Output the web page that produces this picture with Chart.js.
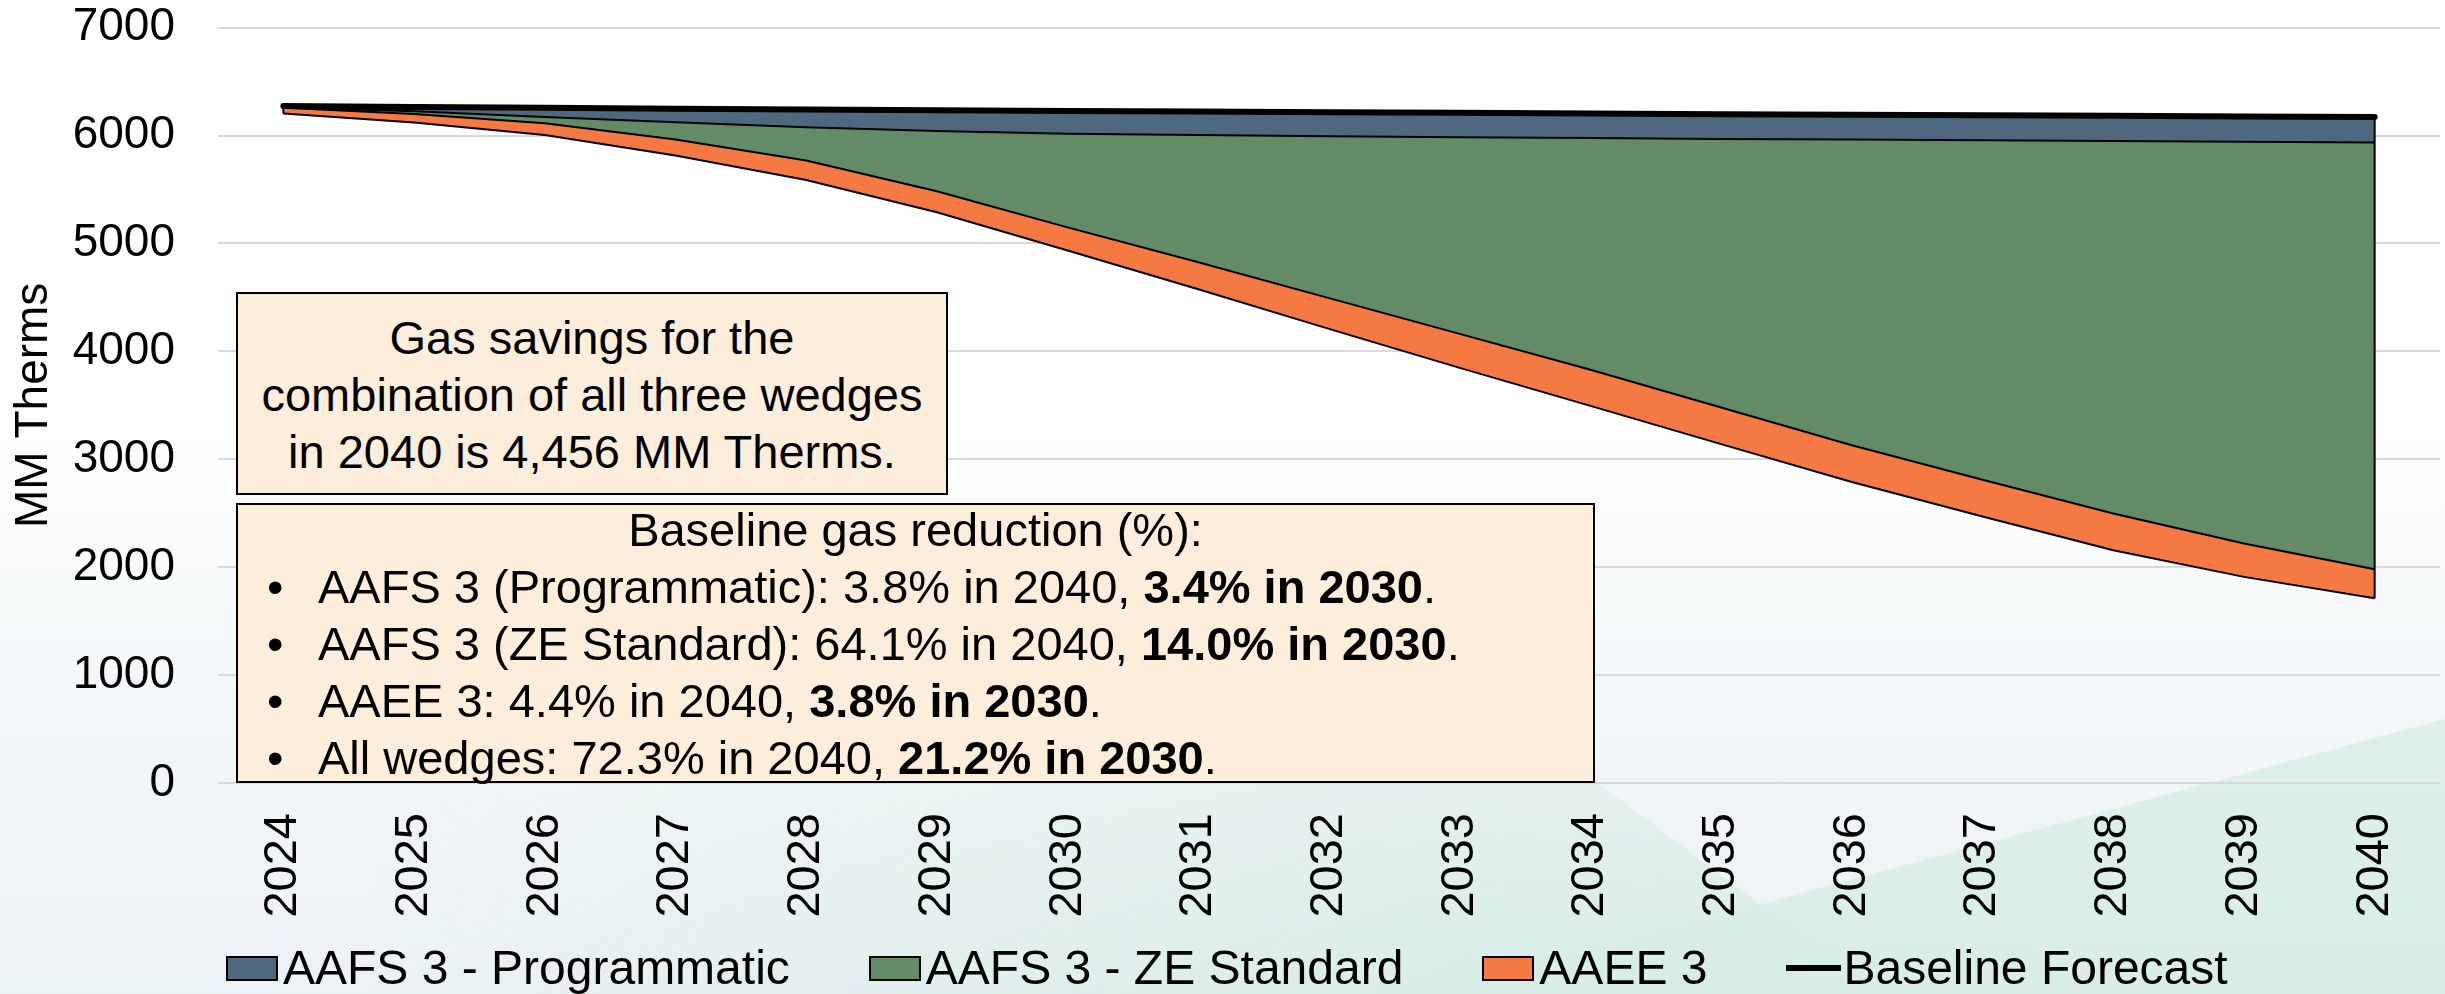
<!DOCTYPE html>
<html lang="en">
<head>
  <meta charset="UTF-8" />
  <title>Gas savings wedges</title>
  <script src="https://cdn.jsdelivr.net/npm/chart.js"></script>
  <style>
    html, body { margin: 0; padding: 0; }
    body {
      width: 2445px;
      height: 994px;
      overflow: hidden;
      position: relative;
      font-family: "Liberation Sans", Arial, sans-serif;
      color: #000;
      background: linear-gradient(180deg, #ffffff 0%, #ffffff 42%, #f3f7f9 70%, #ebf2f5 100%);
    }
    .shape { position: absolute; left: 0; top: 0; width: 2445px; height: 994px; }
    .shape1 {
      background: linear-gradient(90deg, rgba(214,236,229,0) 15%, rgba(210,235,226,0.75) 60%, rgba(210,235,226,0.8) 100%);
      clip-path: polygon(0px 994px, 0px 700px, 1340px 590px, 1880px 994px);
      -webkit-mask-image: linear-gradient(180deg, rgba(0,0,0,0) 58%, rgba(0,0,0,1) 100%);
      mask-image: linear-gradient(180deg, rgba(0,0,0,0) 58%, rgba(0,0,0,1) 100%);
    }
    .shape2 {
      background: linear-gradient(180deg, rgba(226,242,236,0.5) 0%, rgba(214,237,229,0.85) 100%);
      clip-path: polygon(1430px 994px, 2445px 719px, 2445px 994px);
    }
    #wrap { position: absolute; left: 0; top: 0; width: 2445px; height: 994px; }
    .box {
      position: absolute;
      background: #fdeedc;
      border: 2px solid #000;
      box-sizing: border-box;
      font-size: 47px;
      line-height: 57px;
    }
    .box .txt { position: absolute; left: 0; right: 0; }
    .center { text-align: center; white-space: nowrap; }
    .bullet { position: relative; padding-left: 80px; white-space: nowrap; }
    .bullet::before { content: "\2022"; position: absolute; left: 29px; }
    #legend {
      position: absolute;
      left: 226px;
      top: 944px;
      display: flex;
      align-items: center;
      gap: 79px;
      font-size: 48px;
      line-height: 48px;
      white-space: nowrap;
    }
    .item { display: flex; align-items: center; }
    .swatch { width: 52px; height: 25px; border: 2px solid #000; box-sizing: border-box; margin-right: 5px; }
    .lineKey { width: 55px; height: 6px; background: #000; margin-right: 2px; }
  </style>
</head>
<body>
  <div class="shape shape1"></div>
  <div class="shape shape2"></div>

  <div id="wrap"><canvas id="chart"></canvas></div>

  <div class="box" style="left:236px; top:292px; width:712px; height:203px;">
    <div class="txt center" style="top:15px;">
      Gas savings for the<br>combination of all three wedges<br>in 2040 is 4,456 MM Therms.
    </div>
  </div>

  <div class="box" style="left:236px; top:503px; width:1359px; height:280px;">
    <div class="txt" style="top:-4px;">
      <div class="center">Baseline gas reduction (%):</div>
      <div class="bullet">AAFS 3 (Programmatic): 3.8% in 2040, <b>3.4% in 2030</b>.</div>
      <div class="bullet">AAFS 3 (ZE Standard): 64.1% in 2040, <b>14.0% in 2030</b>.</div>
      <div class="bullet">AAEE 3: 4.4% in 2040, <b>3.8% in 2030</b>.</div>
      <div class="bullet">All wedges: 72.3% in 2040, <b>21.2% in 2030</b>.</div>
    </div>
  </div>

  <div id="legend"></div>

  <script>
    // years on the category axis
    const years = ['2024', '2025', '2026', '2027', '2028', '2029', '2030', '2031', '2032',
                   '2033', '2034', '2035', '2036', '2037', '2038', '2039', '2040'];

    // baseline gas forecast (MM Therms)
    const baseline = [6273, 6265, 6257, 6249, 6241, 6234, 6228, 6222, 6216,
                      6210, 6204, 6198, 6193, 6187, 6182, 6176, 6171];

    // savings of each wedge (MM Therms), stacked down from the baseline
    const programmatic = [10, 40, 85, 126, 165, 192, 212, 218, 222,
                          225, 228, 230, 231, 232, 233, 234, 236];
    const zeStandard = [5, 25, 58, 159, 308, 558, 867, 1179, 1501,
                        1823, 2146, 2488, 2832, 3145, 3452, 3723, 3954];
    const aaee = [55, 80, 110, 150, 180, 195, 215, 250, 285,
                  315, 335, 340, 340, 340, 340, 309, 268];

    const yMax = 7000;
    const yStep = 1000;

    // remaining gas after each wedge is taken off
    const afterProg = baseline.map((b, i) => b - programmatic[i]);
    const afterZe = afterProg.map((v, i) => v - zeStandard[i]);
    const afterAaee = afterZe.map((v, i) => v - aaee[i]);

    Chart.defaults.font.family = '"Liberation Sans", Arial, sans-serif';
    Chart.defaults.color = '#000';

    // Excel closes each area with short vertical edges at both ends
    const edges = {
      id: 'edges',
      afterDatasetsDraw(chart) {
        const { ctx, scales: { x, y } } = chart;
        ctx.save();
        ctx.strokeStyle = '#000';
        ctx.lineWidth = 2;
        [0, years.length - 1].forEach(i => {
          const px = x.getPixelForValue(i);
          ctx.beginPath();
          ctx.moveTo(px, y.getPixelForValue(baseline[i]));
          ctx.lineTo(px, y.getPixelForValue(afterAaee[i]));
          ctx.stroke();
        });
        ctx.restore();
      }
    };

    const chart = new Chart(document.getElementById('chart'), {
      type: 'line',
      data: {
        labels: years,
        datasets: [
          {
            label: 'Baseline Forecast',
            data: baseline,
            borderColor: '#000',
            backgroundColor: '#000',
            borderWidth: 6,
            borderCapStyle: 'round',
            fill: false
          },
          {
            label: 'AAFS 3 - Programmatic',
            data: afterProg,
            borderColor: '#000',
            backgroundColor: '#4e6880',
            borderWidth: 2,
            fill: '-1'
          },
          {
            label: 'AAFS 3 - ZE Standard',
            data: afterZe,
            borderColor: '#000',
            backgroundColor: '#638b66',
            borderWidth: 2,
            fill: '-1'
          },
          {
            label: 'AAEE 3',
            data: afterAaee,
            borderColor: '#000',
            backgroundColor: '#f47942',
            borderWidth: 2,
            fill: '-1'
          }
        ]
      },
      options: {
        responsive: true,
        maintainAspectRatio: false,
        animation: false,
        elements: { point: { radius: 0 }, line: { tension: 0 } },
        layout: { padding: { left: 0, right: 5, top: 0, bottom: 77 } },
        plugins: {
          legend: { display: false },
          tooltip: { enabled: false }
        },
        scales: {
          x: {
            offset: true,
            grid: { display: false, drawTicks: true, tickLength: 30, tickColor: 'rgba(0,0,0,0)' },
            border: { display: false },
            ticks: {
              autoSkip: false,
              minRotation: 90,
              maxRotation: 90,
              padding: 0,
              font: { size: 47 }
            },
            afterFit(scale) { scale.height = 134; }
          },
          y: {
            min: 0,
            max: yMax,
            grid: { color: '#d9d9d9', lineWidth: 2, drawTicks: true, tickLength: 43, tickColor: 'rgba(0,0,0,0)' },
            border: { display: false },
            ticks: {
              stepSize: yStep,
              padding: 0,
              font: { size: 46 },
              callback: value => String(value)
            },
            title: {
              display: true,
              text: 'MM Therms',
              font: { size: 46 },
              padding: { top: 7, bottom: 0 }
            },
            afterFit(scale) { scale.width = 218; }
          }
        }
      },
      plugins: [edges]
    });

    // legend built from the chart's own datasets
    const legend = document.getElementById('legend');
    [1, 2, 3, 0].forEach(idx => {
      const ds = chart.data.datasets[idx];
      const item = document.createElement('div');
      item.className = 'item';
      const key = document.createElement('div');
      if (ds.fill) {
        key.className = 'swatch';
        key.style.background = ds.backgroundColor;
      } else {
        key.className = 'lineKey';
      }
      const label = document.createElement('span');
      label.textContent = ds.label;
      item.appendChild(key);
      item.appendChild(label);
      legend.appendChild(item);
    });
  </script>
</body>
</html>
